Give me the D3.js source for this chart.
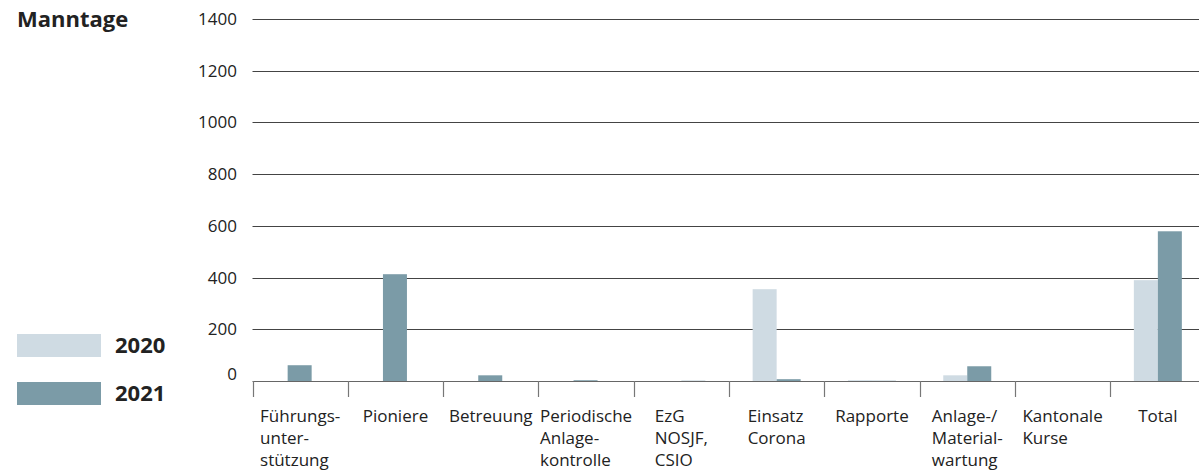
<!DOCTYPE html>
<html lang="de">
<head>
  <meta charset="UTF-8">
  <title>Manntage</title>
  <script src="https://d3js.org/d3.v7.min.js"></script>
  <style>
    body {
      margin: 0;
      padding: 0;
      background: #fff;
      font-family: "Open Sans", sans-serif;
    }
    svg text { fill: #222; }
  </style>
</head>
<body>
  <svg id="chart"></svg>
  <script>
    // data
    const categories = [
      ["Führungs-", "unter-", "stützung"],
      ["Pioniere"],
      ["Betreuung"],
      ["Periodische", "Anlage-", "kontrolle"],
      ["EzG", "NOSJF,", "CSIO"],
      ["Einsatz", "Corona"],
      ["Rapporte"],
      ["Anlage-/", "Material-", "wartung"],
      ["Kantonale", "Kurse"],
      ["Total"]
    ];
    const years = ["2020", "2021"];
    const values2020 = [0, 0, 0, 0, 0, 355, 3, 22, 0, 390];
    const values2021 = [61, 413, 22, 3, 1, 7, 1, 57, 0, 579];
    const yTicks = [0, 200, 400, 600, 800, 1000, 1200, 1400];
    const colors = { "2020": "#cfdbe3", "2021": "#7b9ba7" };

    const width = 1199, height = 475;
    const left = 252.5, step = 95.3;
    const y0 = 381, yTop = 19;

    const svg = d3.select("#chart")
      .attr("width", width)
      .attr("height", height);

    const keys = categories.map((c, i) => "c" + i);

    const x = d3.scaleBand()
      .domain(keys)
      .range([left, left + step * keys.length])
      .padding(0);

    const barW = 24;
    const xs = d3.scaleBand()
      .domain(years)
      .range([(step - barW * 2) / 2, (step + barW * 2) / 2]);

    // in the original the first four bar pairs sit a bit left of centre
    const pairShift = i => i < 4 ? -12.5 : 0;

    const y = d3.scaleLinear()
      .domain([0, 1400])
      .range([y0, yTop]);

    // gridlines + y labels
    const grid = svg.append("g");
    grid.selectAll("line")
      .data(yTicks)
      .join("line")
      .attr("x1", left)
      .attr("x2", width)
      .attr("y1", d => Math.round(y(d)) + 0.5)
      .attr("y2", d => Math.round(y(d)) + 0.5)
      .attr("stroke", d => d === 0 ? "#666" : "#444")
      .attr("stroke-width", 1);

    grid.selectAll("text")
      .data(yTicks)
      .join("text")
      .attr("x", 237)
      .attr("y", d => y(d) + (d === 0 ? -7 : 0))
      .attr("dy", "0.35em")
      .attr("text-anchor", "end")
      .style("font-size", "17px")
      .text(d => d);

    // bars
    const series = [
      { year: "2020", values: values2020 },
      { year: "2021", values: values2021 }
    ];
    const bars = svg.append("g");
    series.forEach(s => {
      bars.selectAll(null)
        .data(s.values)
        .join("rect")
        .attr("x", (d, i) => x(keys[i]) + xs(s.year) + pairShift(i))
        .attr("width", xs.bandwidth())
        .attr("y", d => y(d))
        .attr("height", d => y0 - y(d))
        .attr("fill", colors[s.year]);
    });

    // x axis ticks at category boundaries
    const bounds = keys.map(k => x(k));
    svg.append("g").selectAll("line")
      .data(bounds)
      .join("line")
      .attr("x1", d => Math.round(d) + 0.5)
      .attr("x2", d => Math.round(d) + 0.5)
      .attr("y1", y0)
      .attr("y2", 397)
      .attr("stroke", "#777")
      .attr("stroke-width", 1.2);

    // category labels: left aligned lines, block centred on the band
    const labels = svg.append("g");
    categories.forEach((lines, i) => {
      const t = labels.append("text")
        .style("font-size", "17px");
      lines.forEach((ln, j) => {
        t.append("tspan")
          .attr("x", 0)
          .attr("y", 422 + j * 22)
          .text(ln);
      });
      const w = d3.max(t.selectAll("tspan").nodes(), n => n.getComputedTextLength());
      const cx = x(keys[i]) + step / 2;
      t.attr("transform", `translate(${cx - w / 2},0)`);
    });

    // title
    svg.append("text")
      .attr("x", 17)
      .attr("y", 27)
      .style("font-size", "22px")
      .style("font-weight", "bold")
      .text("Manntage");

    // legend
    const legend = svg.append("g");
    years.forEach((yr, i) => {
      legend.append("rect")
        .attr("x", 17)
        .attr("y", 334 + i * 48)
        .attr("width", 84)
        .attr("height", 23)
        .attr("fill", colors[yr]);
      legend.append("text")
        .attr("x", 115)
        .attr("y", 353 + i * 48)
        .style("font-size", "22px")
        .style("font-weight", "bold")
        .text(yr);
    });
  </script>
</body>
</html>
